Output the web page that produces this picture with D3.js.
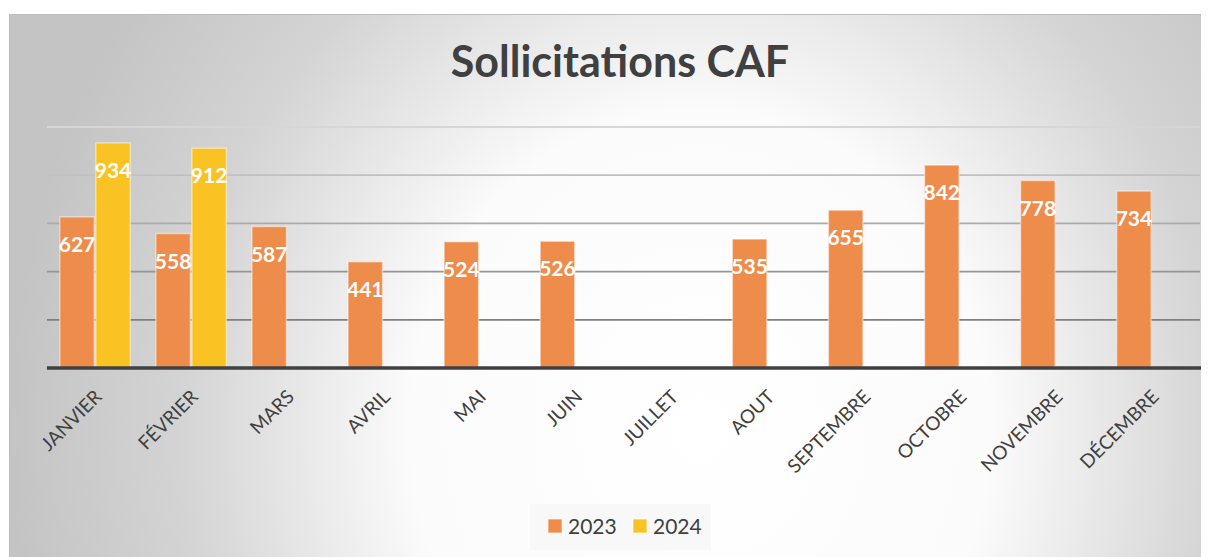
<!DOCTYPE html>
<html>
<head>
<meta charset="utf-8">
<script src="https://cdn.jsdelivr.net/npm/d3@7"></script>
<style>
  html, body { margin: 0; padding: 0; background: #ffffff; }
  svg { display: block; }
  text { font-family: Lato, "Open Sans", "Noto Sans", sans-serif; }
</style>
</head>
<body>
<svg id="chart" width="1220" height="557"></svg>
<script>
// ---- Data ----
const title = "Sollicitations CAF";
const months = ["JANVIER", "FÉVRIER", "MARS", "AVRIL", "MAI", "JUIN", "JUILLET", "AOUT", "SEPTEMBRE", "OCTOBRE", "NOVEMBRE", "DÉCEMBRE"];
const seriesNames = ["2023", "2024"];
const values2023 = [627, 558, 587, 441, 524, 526, null, 535, 655, 842, 778, 734];
const values2024 = [934, 912, null, null, null, null, null, null, null, null, null, null];
const gridTicks = [200, 400, 600, 800, 1000];
const yDomain = [0, 1000];

const seriesValues = [values2023, values2024];
const colors = ["#EE8C4C", "#F9C423"];

const svg = d3.select("#chart");
const W = 1220, H = 557;

// ---- Background ----
const defs = svg.append("defs");
const bg = defs.append("radialGradient")
  .attr("id", "bgGrad")
  .attr("gradientUnits", "userSpaceOnUse")
  .attr("cx", 0).attr("cy", 0).attr("r", 1)
  .attr("gradientTransform", "translate(700,430) scale(690,760)");
bg.append("stop").attr("offset", "0").attr("stop-color", "#ffffff");
bg.append("stop").attr("offset", "0.42").attr("stop-color", "#fbfbfb");
bg.append("stop").attr("offset", "0.75").attr("stop-color", "#d4d4d4");
bg.append("stop").attr("offset", "1").attr("stop-color", "#c4c4c4");

svg.append("rect")
  .attr("x", 9).attr("y", 14).attr("width", 1192).attr("height", H - 14)
  .attr("fill", "url(#bgGrad)");
svg.append("line").attr("x1", 9).attr("x2", 1201).attr("y1", 14.5).attr("y2", 14.5)
  .attr("stroke", "#bdbdbd").attr("stroke-width", 1);
svg.append("line").attr("x1", 9.5).attr("x2", 9.5).attr("y1", 14).attr("y2", H)
  .attr("stroke", "#bdbdbd").attr("stroke-width", 1);

// ---- Scales ----
const plot = { left: 47, right: 1200, top: 127, bottom: 368 };
const x0 = d3.scaleBand().domain(months).range([plot.left, plot.right])
  .paddingInner(0.25).paddingOuter(0.125);
const x1 = d3.scaleBand().domain(seriesNames).range([0, x0.bandwidth()]);
const y = d3.scaleLinear().domain(yDomain).range([plot.bottom, plot.top]);

// ---- Gridlines ----
const gridColor = d3.scaleLinear().domain([200, 1000]).range(["#7f7f7f", "#d6d6d6"]);
svg.append("g").selectAll("line").data(gridTicks).join("line")
  .attr("x1", plot.left).attr("x2", plot.right)
  .attr("y1", d => y(d)).attr("y2", d => y(d))
  .attr("stroke", d => gridColor(d)).attr("stroke-width", 1.8);

// ---- Bars ----
const barData = [];
months.forEach((m, i) => {
  seriesNames.forEach((s, j) => {
    const v = seriesValues[j][i];
    if (v !== null && v !== undefined) barData.push({ month: m, series: s, value: v, color: colors[j] });
  });
});

const bars = svg.append("g");
bars.selectAll("rect").data(barData).join("rect")
  .attr("x", d => x0(d.month) + x1(d.series) + 0.75)
  .attr("y", d => y(d.value))
  .attr("width", x1.bandwidth() - 1.5)
  .attr("height", d => y(0) - y(d.value))
  .attr("fill", d => d.color)
  .attr("stroke", "rgba(255,255,255,0.45)")
  .attr("stroke-width", 1.5);

bars.selectAll("text").data(barData).join("text")
  .attr("x", d => x0(d.month) + x1(d.series) + x1.bandwidth() / 2)
  .attr("y", d => y(d.value) + 35)
  .attr("text-anchor", "middle")
  .attr("fill", "#ffffff")
  .attr("font-weight", "bold")
  .attr("font-size", 21)
  .text(d => d.value);

// ---- Axis ----
const xAxis = d3.axisBottom(x0).tickSize(0).tickPadding(0);
const axisG = svg.append("g").attr("transform", `translate(0,${plot.bottom})`).call(xAxis);
axisG.select(".domain").attr("stroke", "#404040").attr("stroke-width", 3.5)
  .attr("d", `M${plot.left},0H${plot.right + 1}`);
axisG.selectAll(".tick text")
  .attr("font-family", "Lato, 'Open Sans', sans-serif")
  .attr("font-size", 19)
  .attr("fill", "#404040")
  .attr("text-anchor", "end")
  .attr("dy", 0)
  .attr("y", 0)
  .attr("transform", "translate(8,30) rotate(-45)");

// ---- Title ----
svg.append("text")
  .attr("x", 620).attr("y", 77)
  .attr("text-anchor", "middle")
  .attr("font-size", 43).attr("font-weight", "bold")
  .attr("fill", "#404040")
  .text(title);

// ---- Legend ----
const legend = svg.append("g");
legend.append("rect").attr("x", 530).attr("y", 504).attr("width", 181).attr("height", 46)
  .attr("fill", "#f8f8f8");
const legendX = [548, 633];
seriesNames.forEach((s, j) => {
  legend.append("rect")
    .attr("x", legendX[j]).attr("y", 519).attr("width", 14).attr("height", 14)
    .attr("fill", colors[j]).attr("stroke", "rgba(255,255,255,0.45)").attr("stroke-width", 1.5);
  legend.append("text")
    .attr("x", legendX[j] + 20).attr("y", 534)
    .attr("font-size", 21).attr("fill", "#404040")
    .text(s);
});
</script>
</body>
</html>
